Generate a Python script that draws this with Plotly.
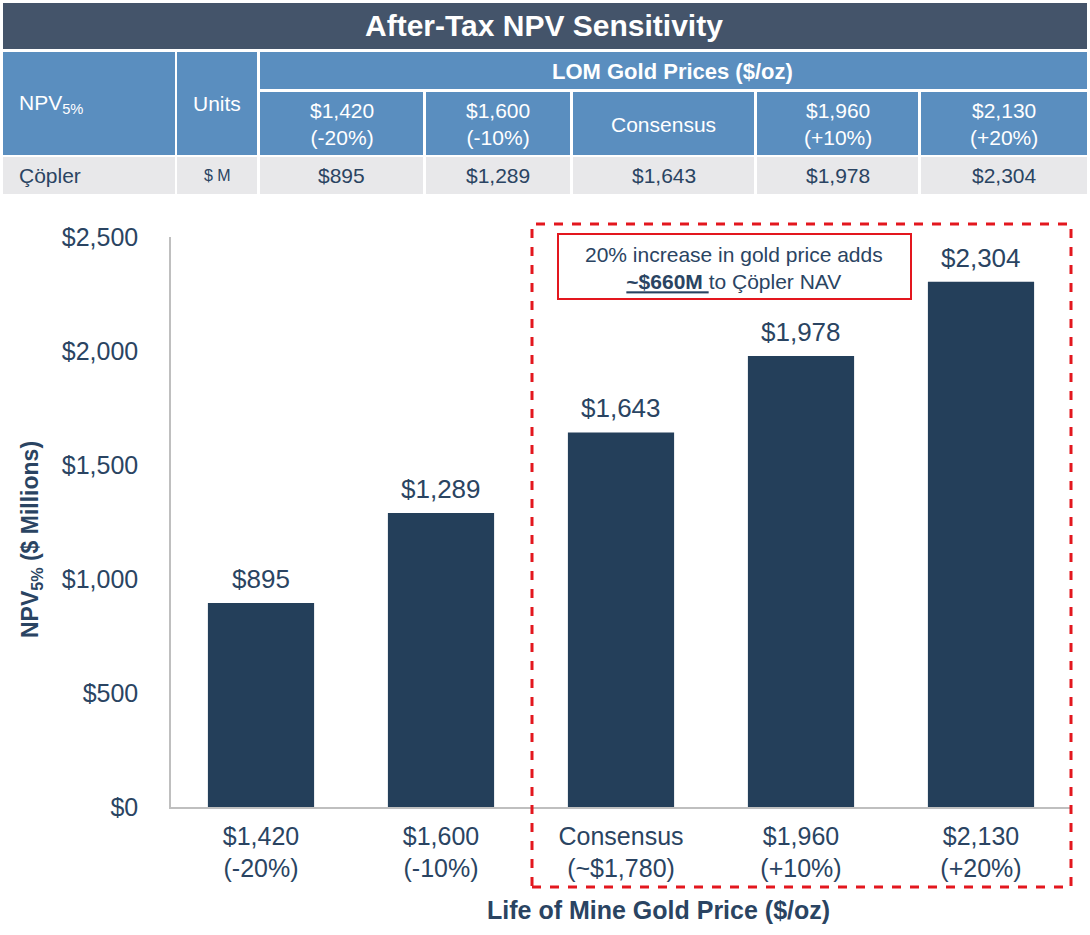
import plotly.graph_objects as go

# chart data
categories = ["$1,420<br>(-20%)", "$1,600<br>(-10%)", "Consensus<br>(~$1,780)", "$1,960<br>(+10%)", "$2,130<br>(+20%)"]
npv_values = [895, 1289, 1643, 1978, 2304]
y_ticks = [0, 500, 1000, 1500, 2000, 2500]

# table data
table_title = "After-Tax NPV Sensitivity"
price_group = "LOM Gold Prices ($/oz)"
price_headers = ["$1,420<br>(-20%)", "$1,600<br>(-10%)", "Consensus", "$1,960<br>(+10%)", "$2,130<br>(+20%)"]
row_name = "Çöpler"
row_units = "$ M"

NAVY = "#243F5A"
TEXT = "#2A4462"
BLUE = "#5A8EBF"
SLATE = "#44546A"
GREY = "#E8E8EA"
RED = "#E3171E"
FONT = "Arial, Liberation Sans, sans-serif"

W, H = 1090, 935
L, R, T, B = 171, 1071, 237, 807


def px(x):
    return (x - L) / (R - L)


def py(y):
    return (B - y) / (B - T)


fig = go.Figure(go.Bar(
    x=categories, y=npv_values, marker_color=NAVY, marker_line_width=0,
    width=0.59, hoverinfo="skip",
))

shapes = []
ann = []


def cell(x0, x1, y0, y1, color):
    shapes.append(dict(type="rect", xref="paper", yref="paper", x0=px(x0), x1=px(x1),
                       y0=py(y1), y1=py(y0), fillcolor=color, line_width=0, layer="below"))


def label(x, y, text, size=21, color="white", xanchor="center"):
    ann.append(dict(xref="paper", yref="paper", x=px(x), y=py(y), text=text, showarrow=False,
                    xanchor=xanchor, yanchor="middle", font=dict(size=size, color=color, family=FONT)))


# title bar
cell(3, 1087, 3, 49, SLATE)
label(544, 26, "<b>" + table_title + "</b>", size=30)

# header
cell(3, 175, 52, 155, BLUE)
label(17, 104, "NPV<sub>5%</sub>", xanchor="left")
cell(177, 257, 52, 155, BLUE)
label(217, 104, "Units")
cell(260, 1087, 52, 89, BLUE)
label(672, 71, "<b>" + price_group + "</b>", size=22)

cols = [(260, 423), (426, 570), (573, 754), (757, 918), (921, 1087)]
for (x0, x1), h, v in zip(cols, price_headers, npv_values):
    cell(x0, x1, 92, 155, BLUE)
    label((x0 + x1) / 2, 124, h)
    cell(x0, x1, 157, 194, GREY)
    label((x0 + x1) / 2, 176, f"${v:,}", color=TEXT)

cell(3, 175, 157, 194, GREY)
label(17, 176, row_name, color=TEXT, xanchor="left")
cell(177, 257, 157, 194, GREY)
label(217, 176, row_units, size=16, color=TEXT)

# value labels on bars
for c, v in zip(categories, npv_values):
    ann.append(dict(x=c, y=v, text=f"${v:,}", showarrow=False, yanchor="bottom", yshift=7,
                    font=dict(size=26, color=TEXT, family=FONT)))

# highlight box
shapes.append(dict(type="rect", xref="paper", yref="paper", x0=px(532), x1=px(1071),
                   y0=py(887), y1=py(224), line=dict(color=RED, width=3, dash="dash")))
shapes.append(dict(type="rect", xref="paper", yref="paper", x0=px(558), x1=px(911),
                   y0=py(299), y1=py(234), fillcolor="white", line=dict(color=RED, width=2)))
label(734, 268, "20% increase in gold price adds<br><b><u>~$660M </u></b>to Çöpler NAV", size=21, color=TEXT)

# axis titles
ann.append(dict(xref="paper", yref="paper", x=px(31), y=py(540), text="<b>NPV<sub>5%</sub> ($ Millions)</b>",
                textangle=-90, showarrow=False, xanchor="center", yanchor="middle",
                font=dict(size=23, color=TEXT, family=FONT)))
label(658, 910, "<b>Life of Mine Gold Price ($/oz)</b>", size=25, color=TEXT)

fig.update_layout(
    width=W, height=H,
    margin=dict(l=L, r=W - R, t=T, b=H - B),
    plot_bgcolor="white", paper_bgcolor="white",
    font=dict(family=FONT, color=TEXT),
    showlegend=False,
    shapes=shapes, annotations=ann,
    xaxis=dict(showline=True, linecolor="#BFBFBF", linewidth=1.5, ticks="",
               tickfont=dict(size=25, color=TEXT), ticklabelstandoff=6),
    yaxis=dict(range=[0, 2500], tickvals=y_ticks, ticktext=[f"${v:,}" for v in y_ticks],
               showgrid=False, zeroline=False, showline=True, linecolor="#BFBFBF",
               linewidth=1.5, ticks="", ticklabelstandoff=26, tickfont=dict(size=25, color=TEXT)),
)

fig.write_html("out.html", config={"displayModeBar": False},
               post_script="document.body.style.margin='0';")
